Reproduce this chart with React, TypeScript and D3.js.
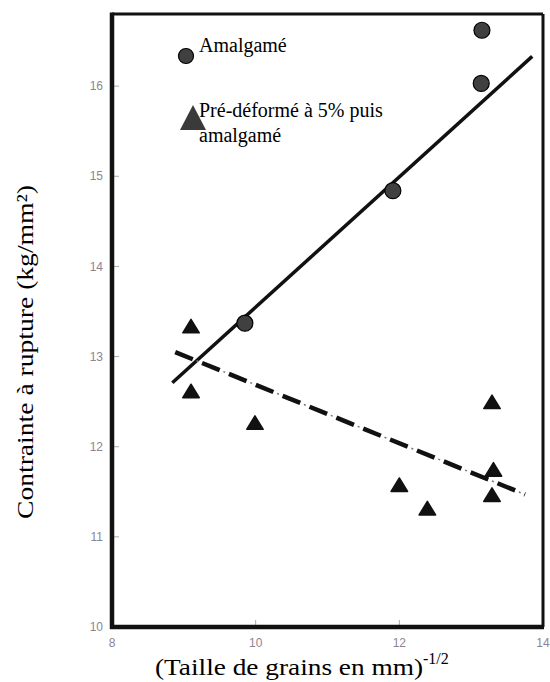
import React from "react";
import * as d3 from "d3";

const amalgX = [9.85, 11.91, 13.14, 13.15];
const amalgY = [13.37, 14.84, 16.03, 16.62];

const preX = [9.1, 9.1, 9.99, 12.0, 12.39, 13.29, 13.31, 13.29];
const preY = [13.33, 12.61, 12.26, 11.57, 11.31, 12.49, 11.74, 11.46];

const solidLineX = [8.84, 13.85];
const solidLineY = [12.71, 16.33];
const dashLineX = [8.88, 13.75];
const dashLineY = [13.05, 11.47];

const xTicks = [8, 10, 12, 14];
const yTicks = [10, 11, 12, 13, 14, 15, 16];

const W = 550;
const H = 682;
const L = 112, R = 543, T = 14, B = 627;
const SERIF = "'Liberation Serif', 'Times New Roman', serif";

export default function App() {
  const x = d3.scaleLinear().domain([8, 14]).range([L, R]);
  const y = d3.scaleLinear().domain([10, 16.8]).range([B, T]);
  const line = d3.line<[number, number]>().x(d => x(d[0])).y(d => y(d[1]));
  const solid = line(solidLineX.map((v, i) => [v, solidLineY[i]] as [number, number]))!;
  const dashed = line(dashLineX.map((v, i) => [v, dashLineY[i]] as [number, number]))!;
  const tri = (cx: number, cy: number, s: number) =>
    `M${cx},${cy - s * 0.5}L${cx + s * 0.55},${cy + s * 0.4}L${cx - s * 0.55},${cy + s * 0.4}Z`;

  return (
    <svg width={W} height={H} style={{ position: "absolute", left: 0, top: 0, background: "#fff" }}>
      <rect x={0} y={0} width={W} height={H} fill="#fff" />
      {/* ticks */}
      {yTicks.map(t => (
        <g key={"y" + t}>
          <line x1={L} x2={L + 7} y1={y(t)} y2={y(t)} stroke="#aaa" strokeWidth={1} />
          <text x={L - 9} y={y(t)} dy="0.35em" textAnchor="end" fontFamily="'Liberation Sans', sans-serif" fontSize={12} fill="#8c8494">{t}</text>
        </g>
      ))}
      {xTicks.map(t => (
        <g key={"x" + t}>
          <line x1={x(t)} x2={x(t)} y1={B} y2={B - 7} stroke="#aaa" strokeWidth={1} />
          <text x={x(t)} y={B + 20} textAnchor="middle" fontFamily="'Liberation Sans', sans-serif" fontSize={12} fill="#8c8494">{t}</text>
        </g>
      ))}
      {/* frame */}
      <line x1={L} x2={R} y1={T} y2={T} stroke="#111" strokeWidth={3} />
      <line x1={R} x2={R} y1={T} y2={B} stroke="#111" strokeWidth={3} />
      <line x1={L} x2={L} y1={T - 1.5} y2={B + 2} stroke="#111" strokeWidth={4.5} />
      <line x1={L - 2} x2={R + 1} y1={B} y2={B} stroke="#111" strokeWidth={4.5} />
      {/* fit lines */}
      <path d={solid} stroke="#111" strokeWidth={3.5} fill="none" />
      <path d={dashed} stroke="#777" strokeWidth={1.5} fill="none" strokeDasharray="2,27" strokeDashoffset={-23} />
      <path d={dashed} stroke="#111" strokeWidth={4.5} fill="none" strokeDasharray="19,10" />
      {/* data */}
      {preX.map((v, i) => (
        <path key={"p" + i} d={tri(x(v), y(preY[i]), 15)} fill="#111" stroke="#111" strokeWidth={1.5} strokeLinejoin="round" />
      ))}
      {amalgX.map((v, i) => (
        <circle key={"a" + i} cx={x(v)} cy={y(amalgY[i])} r={8} fill="#404040" stroke="#000" strokeWidth={1.2} />
      ))}
      {/* legend */}
      <circle cx={186} cy={56} r={7.5} fill="#404040" stroke="#000" strokeWidth={1.2} />
      <text x={199} y={52} fontFamily={SERIF} fontSize={20} fill="#000">Amalgamé</text>
      <path d="M193,105L206,130L180,130Z" fill="#3a3a3a" />
      <text x={199} y={117} fontFamily={SERIF} fontSize={20} fill="#000">Pré-déformé à 5% puis</text>
      <text x={199} y={142} fontFamily={SERIF} fontSize={20} fill="#000">amalgamé</text>
      {/* axis titles */}
      <text transform="translate(33,352) rotate(-90)" textAnchor="middle" fontFamily={SERIF} fontSize={23} textLength={334} lengthAdjust="spacingAndGlyphs" fill="#000">
        Contrainte à rupture (kg/mm²)
      </text>
      <text x={155} y={675} fontFamily={SERIF} fontSize={23} fill="#000">
        <tspan textLength={268} lengthAdjust="spacingAndGlyphs">(Taille de grains en mm)</tspan>
        <tspan dy={-11} fontSize={16}>-1/2</tspan>
      </text>
    </svg>
  );
}
